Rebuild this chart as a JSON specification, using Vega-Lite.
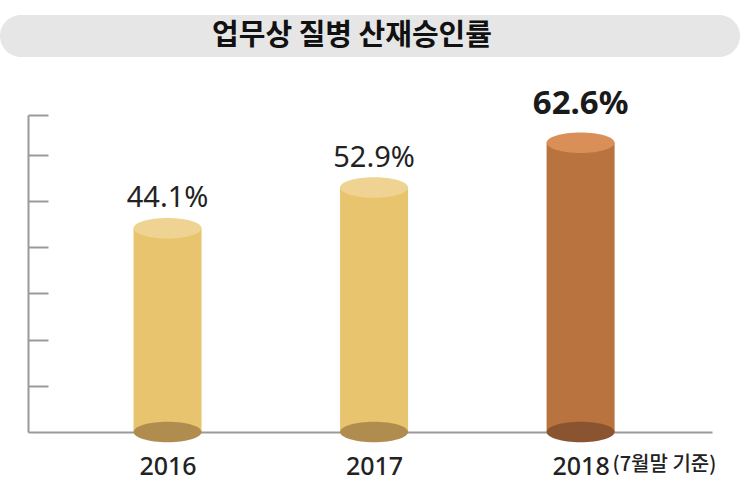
{
  "$schema": "https://vega.github.io/schema/vega-lite/v6.json",
  "padding": {"top": 15, "left": 0, "right": 3, "bottom": 0},
  "background": "white",
  "center": true,
  "bounds": "flush",
  "spacing": 58,
  "config": {"view": {"stroke": null}, "font": "Noto Sans CJK KR"},
  "vconcat": [
    {
      "width": 740,
      "height": 42,
      "view": {"fill": "#e6e6e6", "stroke": null, "cornerRadius": 21},
      "data": {"values": [{"title": "업무상 질병 산재승인률"}]},
      "mark": {"type": "text", "font": "Noto Sans CJK KR", "fontWeight": "bold", "fontSize": 29, "color": "#111111", "dx": -18, "baseline": "middle", "align": "center"},
      "encoding": {"text": {"field": "title"}}
    },
    {
      "width": 684,
      "height": 317,
      "data": {"values": [
        {"year": "2016", "value": 44.1, "note": ""},
        {"year": "2017", "value": 52.9, "note": ""},
        {"year": "2018", "value": 62.6, "note": "(7월말 기준)"}
      ]},
      "encoding": {
        "x": {
          "field": "year", "type": "ordinal",
          "scale": {"type": "point", "padding": 0.656, "align": 0.515},
          "axis": {"title": null, "labelAngle": 0, "ticks": false, "tickSize": 0, "labelBaseline": "middle", "labelPadding": 34, "labelFontSize": 25, "labelFont": "Noto Sans", "labelFontWeight": 500, "labelColor": "#222222", "domainColor": "#9a9a9a", "domainWidth": 2, "zindex": 0}
        },
        "y": {
          "field": "value", "type": "quantitative",
          "scale": {"domain": [0, 68.6], "nice": false, "zero": true},
          "axis": {"title": null, "labels": false, "values": [10, 20, 30, 40, 50, 60, 68.6], "tickSize": -20, "tickWidth": 2, "tickColor": "#9a9a9a", "domainColor": "#9a9a9a", "domainWidth": 2, "grid": false, "zindex": 0}
        }
      },
      "layer": [
        {
          "mark": {"type": "bar", "width": 68},
          "encoding": {
            "color": {"condition": {"test": "datum.year == '2018'", "value": "#b8733f"}, "value": "#e8c46e"}
          }
        },
        {
          "mark": {"type": "point", "shape": "M-1,0C-1,-0.1657,-0.5523,-0.3,0,-0.3C0.5523,-0.3,1,-0.1657,1,0C1,0.1657,0.5523,0.3,0,0.3C-0.5523,0.3,-1,0.1657,-1,0Z", "size": 4624, "filled": true, "opacity": 1, "strokeWidth": 0},
          "encoding": {
            "y": {"datum": 0, "type": "quantitative"},
            "color": {"condition": {"test": "datum.year == '2018'", "value": "#8b5431"}, "value": "#b08d4f"}
          }
        },
        {
          "mark": {"type": "point", "shape": "M-1,0C-1,-0.1657,-0.5523,-0.3,0,-0.3C0.5523,-0.3,1,-0.1657,1,0C1,0.1657,0.5523,0.3,0,0.3C-0.5523,0.3,-1,0.1657,-1,0Z", "size": 4624, "filled": true, "opacity": 1, "strokeWidth": 0},
          "encoding": {
            "color": {"condition": {"test": "datum.year == '2018'", "value": "#d98f57"}, "value": "#efd393"}
          }
        },
        {
          "transform": [
            {"filter": "datum.year != '2018'"},
            {"calculate": "format(datum.value, '.1f') + '%'", "as": "label"}
          ],
          "mark": {"type": "text", "font": "Noto Sans", "fontSize": 29, "fontWeight": "normal", "color": "#222222", "baseline": "alphabetic", "dy": -21},
          "encoding": {"text": {"field": "label"}}
        },
        {
          "transform": [
            {"filter": "datum.year == '2018'"},
            {"calculate": "format(datum.value, '.1f') + '%'", "as": "label"}
          ],
          "mark": {"type": "text", "font": "Noto Sans", "fontSize": 33, "fontWeight": "bold", "color": "#1a1a1a", "baseline": "alphabetic", "dy": -29},
          "encoding": {"text": {"field": "label"}}
        },
        {
          "transform": [{"filter": "datum.note != ''"}],
          "mark": {"type": "text", "font": "Noto Sans CJK KR", "fontSize": 20, "fontWeight": 500, "color": "#222222", "baseline": "alphabetic", "align": "left", "dx": 32, "dy": 39},
          "encoding": {
            "y": {"datum": 0, "type": "quantitative"},
            "text": {"field": "note"}
          }
        }
      ]
    }
  ]
}
